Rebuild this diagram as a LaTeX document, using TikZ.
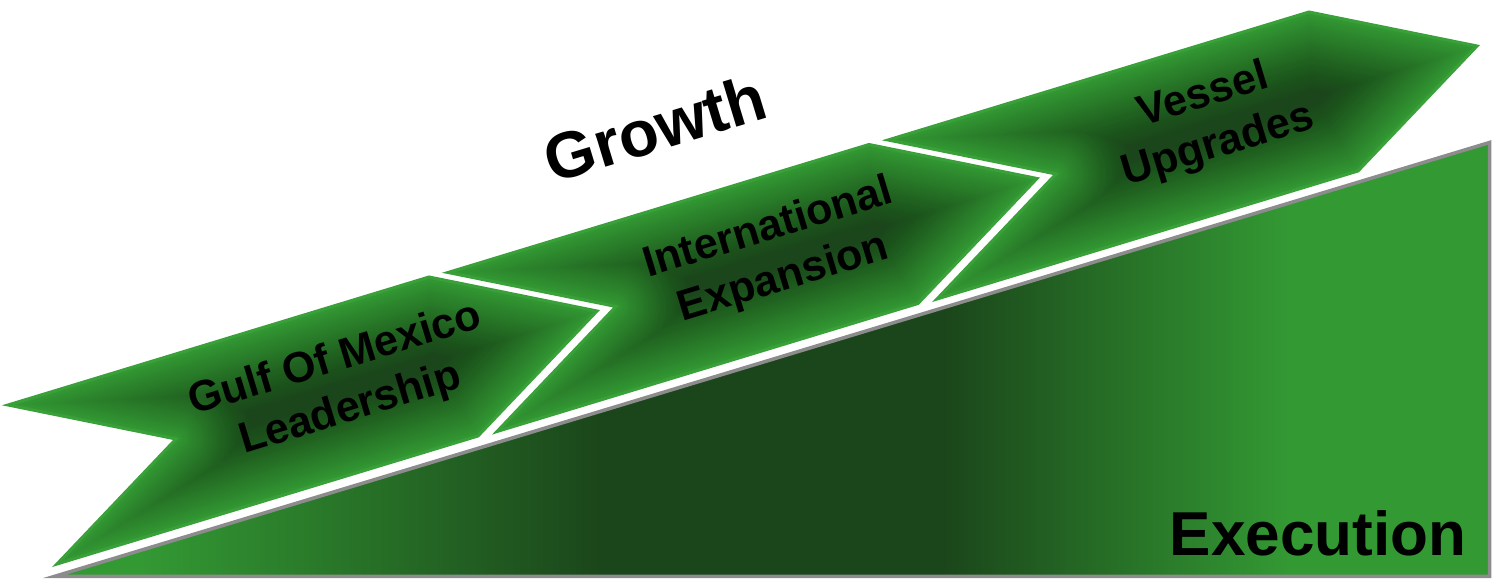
\documentclass[tikz,border=0pt]{standalone}
\usepackage{fontspec}
\setmainfont{Liberation Sans}
\definecolor{lightgreen}{RGB}{51,153,51}
\definecolor{deepgreen}{RGB}{27,70,27}
\definecolor{rimgreen}{RGB}{58,160,58}
\definecolor{rimgray}{RGB}{140,140,140}
% left-to-right colour ramp of the rising ground
\pgfdeclarehorizontalshading{groundshade}{100bp}{color(0bp)=(lightgreen); color(28bp)=(lightgreen); color(44bp)=(deepgreen); color(56bp)=(deepgreen); color(68bp)=(lightgreen); color(100bp)=(lightgreen)}
\tikzset{
  labeltext/.style={font=\bfseries\fontsize{43}{52}\selectfont, align=center, inner sep=0pt, rotate=16.9, text=black},
  ground/.style={shading=groundshade, draw=rimgray, line width=3.5pt},
  chevrim/.style={draw=rimgreen, line width=3pt, line join=miter},
}
\begin{document}
\begin{tikzpicture}[x=1pt,y=1pt]
\path[use as bounding box, fill=white] (0,0) rectangle (1493,578);

% rising ground
\coordinate (g1) at (55,1.75);
\coordinate (g2) at (1489.5,435.5);
\coordinate (g3) at (1489.5,1.75);
\shade[ground] (g1) -- (g2) -- (g3) -- cycle;

% three chevrons climbing the slope; dark core, lighter towards every edge
\foreach \k in {0,1,2}{
  \begin{scope}[shift={(440*\k,132.5*\k)}]
    \begin{scope}
      \clip (8,173) -- (429,301) -- (597,267) -- (478,142) -- (57,14) -- (176,139) -- cycle;
      \fill[deepgreen] (0,0) rectangle (610,310);
      \foreach \j in {30,29,...,1}{
        \pgfmathsetmacro\op{1/\j}
        \pgfmathsetmacro\lw{5*\j}
        \draw[lightgreen, line width=\lw, opacity=\op, line join=round]
          (8,173) -- (429,301) -- (597,267) -- (478,142) -- (57,14) -- (176,139) -- cycle;
      }
    \end{scope}
    \draw[chevrim] (8,173) -- (429,301) -- (597,267) -- (478,142) -- (57,14) -- (176,139) -- cycle;
  \end{scope}
}

\node[labeltext] (gulf) at (343,193) {Gulf Of Mexico\\Leadership};
\node[labeltext] (intl) at (776,324) {International\\Expansion};
\node[labeltext] (vessel) at (1211,457) {Vessel\\Upgrades};
\node[font=\bfseries\fontsize{65}{78}\selectfont, rotate=16.9, inner sep=0pt] (growth) at (655,450) {Growth};
\node[font=\bfseries\fontsize{62}{74}\selectfont, anchor=base, inner sep=0pt] (execution) at (1318,23) {Execution};
\end{tikzpicture}
\end{document}
